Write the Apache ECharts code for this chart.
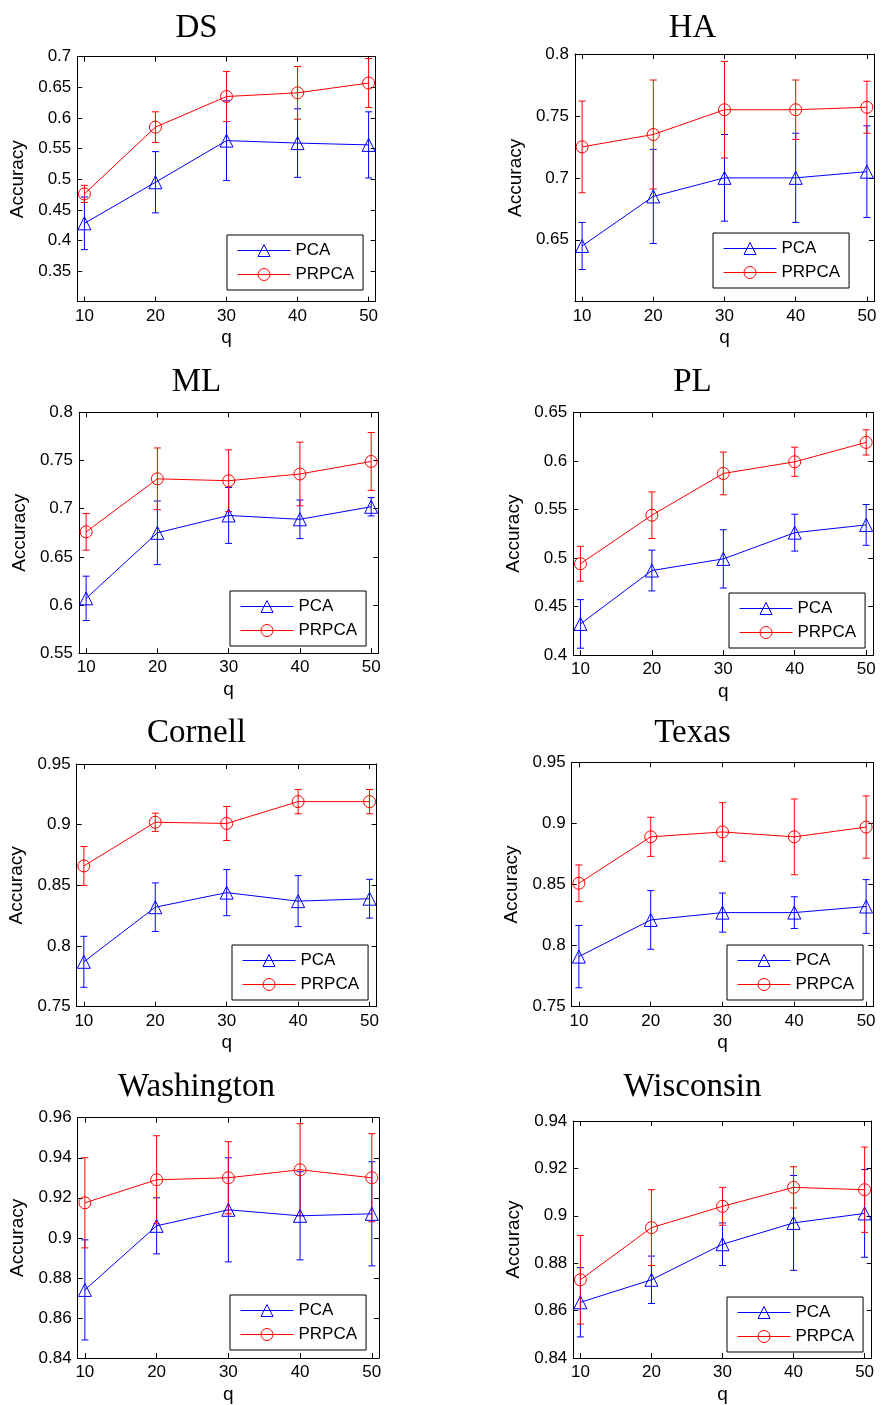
<!DOCTYPE html>
<html>
<head>
<meta charset="utf-8">
<script src="https://cdn.jsdelivr.net/npm/echarts@6/dist/echarts.min.js"></script>
<style>
html, body { margin: 0; padding: 0; background: #fff; }
#chart { width: 881px; height: 1405px; }
</style>
</head>
<body>
<div id="chart"></div>
<script>
// Reduced dimension q used on every x axis
const qValues = [10, 20, 30, 40, 50];
const qTicks = [10, 20, 30, 40, 50];

// Mean accuracy and spread (one standard deviation) per dataset
const dsPca = [0.428, 0.495, 0.563, 0.559, 0.556];
const dsPcaErr = [0.043, 0.050, 0.065, 0.056, 0.054];
const dsPrpca = [0.476, 0.585, 0.635, 0.641, 0.657];
const dsPrpcaErr = [0.014, 0.025, 0.041, 0.043, 0.040];
const dsTicks = [0.35, 0.4, 0.45, 0.5, 0.55, 0.6, 0.65, 0.7];

const haPca = [0.645, 0.685, 0.700, 0.700, 0.705];
const haPcaErr = [0.019, 0.038, 0.035, 0.036, 0.037];
const haPrpca = [0.725, 0.735, 0.755, 0.755, 0.757];
const haPrpcaErr = [0.037, 0.044, 0.039, 0.024, 0.021];
const haTicks = [0.65, 0.7, 0.75, 0.8];

const mlPca = [0.607, 0.675, 0.693, 0.689, 0.702];
const mlPcaErr = [0.023, 0.033, 0.029, 0.020, 0.0095];
const mlPrpca = [0.676, 0.731, 0.729, 0.736, 0.749];
const mlPrpcaErr = [0.019, 0.032, 0.032, 0.033, 0.030];
const mlTicks = [0.55, 0.6, 0.65, 0.7, 0.75, 0.8];

const plPca = [0.432, 0.487, 0.499, 0.526, 0.534];
const plPcaErr = [0.025, 0.021, 0.030, 0.019, 0.021];
const plPrpca = [0.494, 0.544, 0.587, 0.599, 0.619];
const plPrpcaErr = [0.018, 0.024, 0.022, 0.015, 0.013];
const plTicks = [0.4, 0.45, 0.5, 0.55, 0.6, 0.65];

const cornellPca = [0.787, 0.832, 0.844, 0.837, 0.839];
const cornellPcaErr = [0.021, 0.020, 0.019, 0.021, 0.016];
const cornellPrpca = [0.866, 0.902, 0.901, 0.919, 0.919];
const cornellPrpcaErr = [0.016, 0.0075, 0.014, 0.010, 0.010];
const cornellTicks = [0.75, 0.8, 0.85, 0.9, 0.95];

const texasPca = [0.791, 0.821, 0.827, 0.827, 0.832];
const texasPcaErr = [0.0255, 0.024, 0.016, 0.013, 0.022];
const texasPrpca = [0.851, 0.889, 0.893, 0.889, 0.897];
const texasPrpcaErr = [0.015, 0.016, 0.024, 0.031, 0.0255];
const texasTicks = [0.75, 0.8, 0.85, 0.9, 0.95];

const washingtonPca = [0.874, 0.906, 0.914, 0.911, 0.912];
const washingtonPcaErr = [0.025, 0.014, 0.026, 0.022, 0.026];
const washingtonPrpca = [0.9175, 0.929, 0.930, 0.934, 0.930];
const washingtonPrpcaErr = [0.0225, 0.022, 0.018, 0.023, 0.022];
const washingtonTicks = [0.84, 0.86, 0.88, 0.9, 0.92, 0.94, 0.96];

const wisconsinPca = [0.8635, 0.873, 0.888, 0.897, 0.901];
const wisconsinPcaErr = [0.0146, 0.010, 0.009, 0.020, 0.0185];
const wisconsinPrpca = [0.873, 0.895, 0.904, 0.912, 0.911];
const wisconsinPrpcaErr = [0.0187, 0.016, 0.008, 0.0087, 0.018];
const wisconsinTicks = [0.84, 0.86, 0.88, 0.9, 0.92, 0.94];

const datasetNames = ['DS', 'HA', 'ML', 'PL', 'Cornell', 'Texas', 'Washington', 'Wisconsin'];

const panelData = [
  [dsPca, dsPcaErr, dsPrpca, dsPrpcaErr, dsTicks],
  [haPca, haPcaErr, haPrpca, haPrpcaErr, haTicks],
  [mlPca, mlPcaErr, mlPrpca, mlPrpcaErr, mlTicks],
  [plPca, plPcaErr, plPrpca, plPrpcaErr, plTicks],
  [cornellPca, cornellPcaErr, cornellPrpca, cornellPrpcaErr, cornellTicks],
  [texasPca, texasPcaErr, texasPrpca, texasPrpcaErr, texasTicks],
  [washingtonPca, washingtonPcaErr, washingtonPrpca, washingtonPrpcaErr, washingtonTicks],
  [wisconsinPca, wisconsinPcaErr, wisconsinPrpca, wisconsinPrpcaErr, wisconsinTicks]
];

// Panel layout: plot box [left, top, right, bottom], y range, legend corner, title centre/top
const layout = [
  { box: [77.3, 56.7, 375.7, 301.7], y: [0.3, 0.7],  legend: [227, 235],  title: [196.5, 12] },
  { box: [575, 54, 874, 301.7],      y: [0.6, 0.8],  legend: [713, 233],  title: [692.5, 12] },
  { box: [79, 412.3, 378.3, 653.3],  y: [0.55, 0.8], legend: [230, 591],  title: [196.5, 366] },
  { box: [573.3, 412.3, 873.3, 655], y: [0.4, 0.65], legend: [729, 593],  title: [692.5, 366] },
  { box: [76.7, 764, 376.7, 1006.7], y: [0.75, 0.95], legend: [232, 945], title: [196.5, 717] },
  { box: [571.7, 762.3, 873.3, 1006.7], y: [0.75, 0.95], legend: [727, 945], title: [692.5, 717] },
  { box: [77.7, 1117.7, 379, 1360],  y: [0.84, 0.96], legend: [230, 1295], title: [196.5, 1071] },
  { box: [573.3, 1121, 871.7, 1360], y: [0.84, 0.94], legend: [727, 1297], title: [692.5, 1071] }
];

const BLUE = '#0000ff';
const RED = '#ff0000';
const SANS = '"Liberation Sans", Arial, Helvetica, sans-serif';
const SERIF = '"Liberation Serif", "Times New Roman", serif';

function errorBarItem(params, api) {
  const x = api.value(0);
  const y = api.value(1);
  const e = api.value(2);
  const hi = api.coord([x, y + e]);
  const lo = api.coord([x, y - e]);
  const hw = 3.5;
  const style = { stroke: api.visual('color'), lineWidth: 1, fill: null };
  return {
    type: 'group',
    children: [
      { type: 'line', shape: { x1: hi[0], y1: hi[1], x2: lo[0], y2: lo[1] }, style: style },
      { type: 'line', shape: { x1: hi[0] - hw, y1: hi[1], x2: hi[0] + hw, y2: hi[1] }, style: style },
      { type: 'line', shape: { x1: lo[0] - hw, y1: lo[1], x2: lo[0] + hw, y2: lo[1] }, style: style }
    ]
  };
}

const grids = [], xAxes = [], yAxes = [], series = [], legends = [], titles = [];
const axisLine = { show: true, onZero: false, lineStyle: { color: '#000', width: 1 } };

function legendEntry(name, color) {
  return {
    name: name,
    lineStyle: { color: color, width: 1 },
    itemStyle: { color: 'rgba(0,0,0,0)', borderColor: color, borderWidth: 1 }
  };
}

layout.forEach(function (L, i) {
  const [pca, pcaErr, prpca, prpcaErr, yTicks] = panelData[i];
  const [l, t, r, b] = L.box;
  grids.push({ left: l, top: t, width: r - l, height: b - t, containLabel: false });

  titles.push({
    text: datasetNames[i], left: L.title[0], top: L.title[1], textAlign: 'center', padding: 0,
    textStyle: { fontFamily: SERIF, fontSize: 33, fontWeight: 'normal', color: '#000' }
  });

  const tickStyle = { show: true, inside: true, length: 5, lineStyle: { color: '#000', width: 1 } };

  // bottom and top x axes
  xAxes.push({
    gridIndex: i, type: 'value', position: 'bottom', min: 9, max: 51,
    axisLine: axisLine, splitLine: { show: false },
    axisTick: Object.assign({ customValues: qTicks }, tickStyle),
    axisLabel: { customValues: qTicks, margin: 6, fontFamily: SANS, fontSize: 17, color: '#000' },
    name: 'q', nameLocation: 'middle', nameGap: 27,
    nameTextStyle: { fontFamily: SANS, fontSize: 19, color: '#000' }
  });
  xAxes.push({
    gridIndex: i, type: 'value', position: 'top', min: 9, max: 51,
    axisLine: axisLine, splitLine: { show: false },
    axisTick: Object.assign({ customValues: qTicks }, tickStyle),
    axisLabel: { show: false }
  });
  // left and right y axes
  yAxes.push({
    gridIndex: i, type: 'value', position: 'left', min: L.y[0], max: L.y[1],
    axisLine: axisLine, splitLine: { show: false },
    axisTick: Object.assign({ customValues: yTicks }, tickStyle),
    axisLabel: { customValues: yTicks, margin: 6, fontFamily: SANS, fontSize: 17, color: '#000' },
    name: 'Accuracy', nameLocation: 'middle', nameGap: 50,
    nameTextStyle: { fontFamily: SANS, fontSize: 19, color: '#000' }
  });
  yAxes.push({
    gridIndex: i, type: 'value', position: 'right', min: L.y[0], max: L.y[1],
    axisLine: axisLine, splitLine: { show: false },
    axisTick: Object.assign({ customValues: yTicks }, tickStyle),
    axisLabel: { show: false }
  });

  const xi = 2 * i, yi = 2 * i;
  [['PCA', pca, pcaErr, BLUE, 'triangle', 13], ['PRPCA', prpca, prpcaErr, RED, 'circle', 12]].forEach(function (s) {
    const [name, mean, err, color, symbol, size] = s;
    series.push({
      type: 'line', name: name, xAxisIndex: xi, yAxisIndex: yi,
      data: qValues.map(function (q, k) { return [q, mean[k]]; }),
      symbol: symbol, symbolSize: size, showAllSymbol: true,
      lineStyle: { color: color, width: 1 },
      itemStyle: { color: 'rgba(0,0,0,0)', borderColor: color, borderWidth: 1 },
      emphasis: { disabled: true }, animation: false
    });
    series.push({
      type: 'custom', name: name + ' std', xAxisIndex: xi, yAxisIndex: yi,
      data: qValues.map(function (q, k) { return [q, mean[k], err[k]]; }),
      renderItem: errorBarItem, itemStyle: { color: color }, animation: false, silent: true
    });
  });

  legends.push({
    data: [legendEntry('PCA', BLUE), legendEntry('PRPCA', RED)],
    orient: 'vertical', left: L.legend[0], top: L.legend[1],
    padding: [7, 9, 7, 10], itemGap: 7, itemWidth: 53, itemHeight: 15,
    borderColor: '#000', borderWidth: 1, backgroundColor: '#fff', selectedMode: false,
    textStyle: { fontFamily: SANS, fontSize: 17, color: '#000' }
  });
});

const chart = echarts.init(document.getElementById('chart'), null, { renderer: 'canvas' });
chart.setOption({
  backgroundColor: '#fff',
  animation: false,
  title: titles,
  grid: grids,
  xAxis: xAxes,
  yAxis: yAxes,
  legend: legends,
  series: series
});
</script>
</body>
</html>
